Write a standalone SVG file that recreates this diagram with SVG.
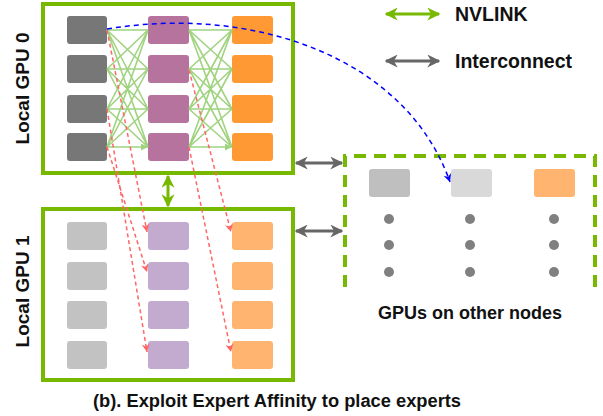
<svg xmlns="http://www.w3.org/2000/svg" width="603" height="416" viewBox="0 0 603 416">
<defs>
<style>
text{font-family:"Liberation Sans",Arial,sans-serif;font-weight:bold;fill:#111}
.gpu{fill:#fff;stroke:#77b900;stroke-width:4}
.b{rx:3;ry:3}
.g0{fill:#777}.p0{fill:#b5739d}.o0{fill:#ff9933}
.g1{fill:#c2c2c2}.p1{fill:#c3abd0}.o1{fill:#ffb570}
.mesh{stroke:#9fd37f;stroke-width:1.6;fill:none;marker-end:url(#mg)}
.red{stroke:#ff6666;stroke-width:1.5;stroke-dasharray:4 3;fill:none;marker-end:url(#mr)}
.nv{stroke:#77b900;stroke-width:3;fill:none;marker-start:url(#an);marker-end:url(#an)}
.ic{stroke:#666;stroke-width:3;fill:none;marker-start:url(#ai);marker-end:url(#ai)}
.dot{fill:#808080}
</style>
<marker id="mg" viewBox="0 0 10 10" refX="10" refY="5" markerUnits="userSpaceOnUse" markerWidth="7" markerHeight="7" orient="auto"><path d="M0,0 L10,5 L0,10 z" fill="#9fd37f"/></marker>
<marker id="mr" viewBox="0 0 10 10" refX="10" refY="5" markerUnits="userSpaceOnUse" markerWidth="8" markerHeight="8" orient="auto"><path d="M0,0 L10,5 L0,10 L3,5 z" fill="#ff6666"/></marker>
<marker id="mb" viewBox="0 0 10 10" refX="10" refY="5" markerUnits="userSpaceOnUse" markerWidth="8" markerHeight="8" orient="auto"><path d="M0,0 L10,5 L0,10 L3,5 z" fill="#0000ff"/></marker>
<marker id="an" viewBox="0 0 10 10" refX="9" refY="5" markerUnits="userSpaceOnUse" markerWidth="13" markerHeight="13" orient="auto-start-reverse"><path d="M0,0 L10,5 L0,10 L3,5 z" fill="#77b900"/></marker>
<marker id="ai" viewBox="0 0 10 10" refX="9" refY="5" markerUnits="userSpaceOnUse" markerWidth="13" markerHeight="13" orient="auto-start-reverse"><path d="M0,0 L10,5 L0,10 L3,5 z" fill="#666"/></marker>
</defs>
<rect width="603" height="416" fill="#fff"/>

<g id="gpu0">
<rect class="gpu" x="43" y="4" width="250" height="169"/>
<text transform="translate(28.5,88.5) rotate(-90)" text-anchor="middle" font-size="19">Local GPU 0</text>
<rect class="b g0" x="67" y="16" width="40" height="28"/>
<rect class="b g0" x="67" y="55" width="40" height="28"/>
<rect class="b g0" x="67" y="95" width="40" height="28"/>
<rect class="b g0" x="67" y="133" width="40" height="28"/>
<rect class="b p0" x="148" y="16" width="41" height="28"/>
<rect class="b p0" x="148" y="55" width="41" height="28"/>
<rect class="b p0" x="148" y="95" width="41" height="28"/>
<rect class="b p0" x="148" y="133" width="41" height="28"/>
<rect class="b o0" x="232" y="16" width="41" height="28"/>
<rect class="b o0" x="232" y="55" width="41" height="28"/>
<rect class="b o0" x="232" y="95" width="41" height="28"/>
<rect class="b o0" x="232" y="133" width="41" height="28"/>
</g>

<g id="gpu1">
<rect class="gpu" x="43" y="209" width="250" height="171"/>
<text transform="translate(28.5,291.5) rotate(-90)" text-anchor="middle" font-size="19">Local GPU 1</text>
<rect class="b g1" x="67" y="222" width="40" height="28"/>
<rect class="b g1" x="67" y="262" width="40" height="28"/>
<rect class="b g1" x="67" y="301" width="40" height="28"/>
<rect class="b g1" x="67" y="341" width="40" height="28"/>
<rect class="b p1" x="148" y="222" width="41" height="28"/>
<rect class="b p1" x="148" y="262" width="41" height="28"/>
<rect class="b p1" x="148" y="301" width="41" height="28"/>
<rect class="b p1" x="148" y="341" width="41" height="28"/>
<rect class="b o1" x="232" y="222" width="41" height="28"/>
<rect class="b o1" x="232" y="262" width="41" height="28"/>
<rect class="b o1" x="232" y="301" width="41" height="28"/>
<rect class="b o1" x="232" y="341" width="41" height="28"/>
</g>

<g id="other-nodes">
<path d="M345,287 V156 H595 V287" fill="none" stroke="#77b900" stroke-width="4" stroke-dasharray="12 8"/>
<rect class="b" x="369" y="169" width="41" height="28" fill="#bfbfbf"/>
<rect class="b" x="451" y="169" width="41" height="28" fill="#d9d9d9"/>
<rect class="b" x="534" y="169" width="41" height="28" fill="#ffb570"/>
<circle class="dot" cx="389" cy="219" r="5"/><circle class="dot" cx="470" cy="219" r="5"/><circle class="dot" cx="554" cy="219" r="5"/>
<circle class="dot" cx="389" cy="245" r="5"/><circle class="dot" cx="470" cy="245" r="5"/><circle class="dot" cx="554" cy="245" r="5"/>
<circle class="dot" cx="389" cy="272" r="5"/><circle class="dot" cx="470" cy="272" r="5"/><circle class="dot" cx="554" cy="272" r="5"/>
<text x="470" y="319" text-anchor="middle" font-size="18">GPUs on other nodes</text>
</g>

<g id="legend">
<line class="nv" x1="386" y1="14" x2="439" y2="14"/>
<text x="455" y="21" font-size="19.5">NVLINK</text>
<line class="ic" x1="386" y1="61" x2="439" y2="61"/>
<text x="455" y="68" font-size="19.5">Interconnect</text>
</g>

<g id="connectors">
<path class="mesh" d="M107,30 L148,30 M107,30 L148,69 M107,30 L148,109 M107,30 L148,147
M107,69 L148,30 M107,69 L148,69 M107,69 L148,109 M107,69 L148,147
M107,109 L148,30 M107,109 L148,69 M107,109 L148,109 M107,109 L148,147
M107,147 L148,30 M107,147 L148,69 M107,147 L148,109 M107,147 L148,147"/>
<path class="mesh" d="M189,30 L232,30 M189,30 L232,69 M189,30 L232,109 M189,30 L232,147
M189,69 L232,30 M189,69 L232,69 M189,69 L232,109 M189,69 L232,147
M189,109 L232,30 M189,109 L232,69 M189,109 L232,109 M189,109 L232,147
M189,147 L232,30 M189,147 L232,69 M189,147 L232,109 M189,147 L232,147"/>
<line class="red" x1="107" y1="30" x2="147" y2="232"/>
<line class="red" x1="107" y1="147" x2="147" y2="272"/>
<line class="red" x1="107" y1="109" x2="147" y2="352"/>
<line class="red" x1="189" y1="70" x2="231" y2="232"/>
<line class="red" x1="189" y1="147" x2="231" y2="352"/>
<path d="M107,29 C250,5 405,55 450,182" fill="none" stroke="#0000ff" stroke-width="1.5" stroke-dasharray="5 4" marker-end="url(#mb)"/>
<line class="nv" x1="168" y1="176" x2="168" y2="206"/>
<line class="ic" x1="296" y1="163" x2="342" y2="163"/>
<line class="ic" x1="296" y1="231" x2="342" y2="231"/>
</g>

<text x="277" y="407" text-anchor="middle" font-size="18.3">(b). Exploit Expert Affinity to place experts</text>
</svg>
